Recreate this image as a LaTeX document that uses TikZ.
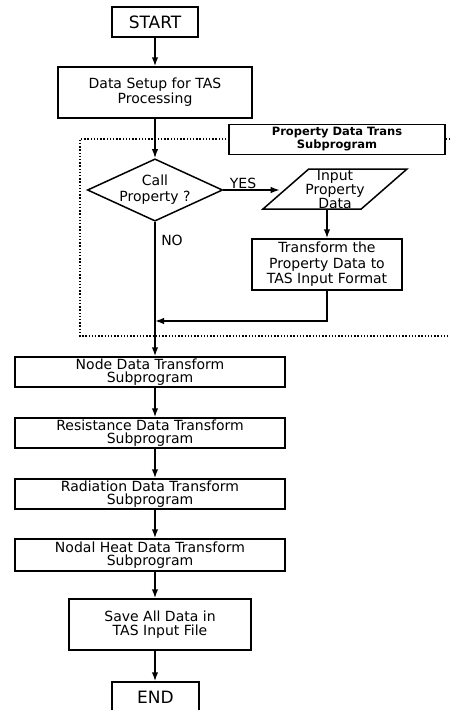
\documentclass[tikz,border=0pt]{standalone}
\usepackage{fontspec}
\setmainfont{DejaVu Sans}
\usetikzlibrary{shapes.geometric,arrows.meta}
\begin{document}
\begin{tikzpicture}[x=1pt,y=-1pt,>={Latex[length=9pt,width=6.5pt]},line width=1.5pt,
  box/.style={draw,fill=white,align=center,inner sep=0pt,font=\fontsize{14}{13}\selectfont},
  tallbox/.style={box,font=\fontsize{14}{15}\selectfont},
  termbox/.style={box,font=\fontsize{17}{17}\selectfont},
  dotframe/.style={line width=1.4pt,dash pattern=on 1.4pt off 1.8pt},
  lbl/.style={font=\fontsize{14}{14}\selectfont,inner sep=0pt}]
\useasboundingbox (0,0) rectangle (450,710);
\draw[dotframe] (460,139) -- (80,139) -- (80,336) -- (460,336);
\node[termbox,minimum width=86pt,minimum height=30pt] (start) at (155,22) {START};
\node[tallbox,minimum width=194pt,minimum height=51pt] (setup) at (155,92.5) {Data Setup for TAS\\Processing};
\node[box,font=\bfseries\fontsize{11.5}{13}\selectfont,minimum width=216pt,minimum height=30pt] (trans) at (337,139.5) {Property Data Trans\\Subprogram};
\node[draw,fill=white,diamond,aspect=2.17,minimum width=128pt,minimum height=59pt,inner sep=0pt,
  align=center,font=\fontsize{14}{16}\selectfont] (call) at (155,190) {Call\\Property ?};
\node[draw,fill=white,trapezium,trapezium left angle=40,trapezium right angle=140,trapezium stretches body,
  minimum width=144pt,minimum height=40pt,inner ysep=0pt,inner xsep=-6pt,align=center,
  font=\fontsize{14}{14}\selectfont] (input) at (335,189) {Input\\Property\\Data};
\node[tallbox,font=\fontsize{14}{15.5}\selectfont,minimum width=150pt,minimum height=51pt] (transform) at (327,264.5) {Transform the\\Property Data to\\TAS Input Format};
\node[box,minimum width=270pt,minimum height=30pt] (nodebox) at (150,372) {Node Data Transform\\Subprogram};
\node[box,minimum width=270pt,minimum height=30pt] (resist) at (150,433) {Resistance Data Transform\\Subprogram};
\node[box,minimum width=270pt,minimum height=30pt] (radiat) at (150,494) {Radiation Data Transform\\Subprogram};
\node[box,minimum width=270pt,minimum height=32pt] (nodal) at (150,555) {Nodal Heat Data Transform\\Subprogram};
\node[tallbox,font=\fontsize{14}{14}\selectfont,minimum width=182pt,minimum height=51pt] (save) at (160,624.5) {Save All Data in\\TAS Input File};
\node[termbox,minimum width=87pt,minimum height=30pt] (endbox) at (155.5,697) {END};
\coordinate (join) at (155,321);
\draw[->] (start.south) -- (setup.north);
\draw[->] (setup.south) -- (call.north);
\draw[->,shorten >=5pt] (call.east) -- (call.east -| input.west);
\node[lbl] (yes) at (243,183) {YES};
\draw[->] (transform.north |- input.south) -- (transform.north);
\draw[->] (transform.south) |- (join);
\draw[->] (call.south) -- (nodebox.north -| call.south);
\node[lbl] (no) at (172,240) {NO};
\draw[->] (nodebox.south -| start) -- (resist.north -| start);
\draw[->] (resist.south -| start) -- (radiat.north -| start);
\draw[->] (radiat.south -| start) -- (nodal.north -| start);
\draw[->] (nodal.south -| start) -- (save.north -| start);
\draw[->] (save.south -| start) -- (endbox.north -| start);
\end{tikzpicture}
\end{document}
